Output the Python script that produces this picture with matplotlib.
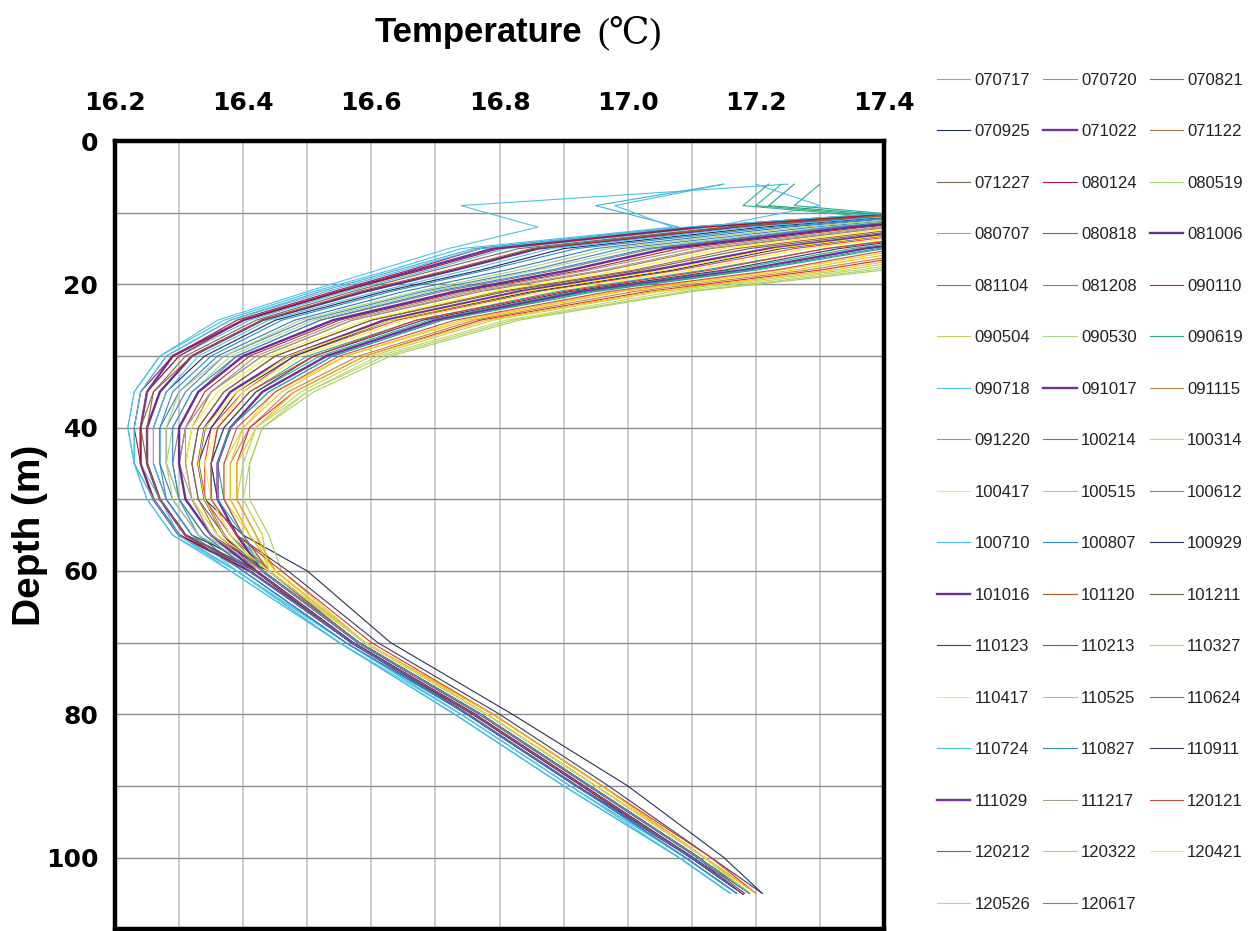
#importing libraries
import numpy as np
import matplotlib
matplotlib.use('Agg')
import matplotlib.pyplot as plt
from matplotlib.ticker import MultipleLocator

depth = [6, 9, 12, 15, 18, 21, 25, 30, 35, 40, 45, 50, 55, 60, 70, 80, 90, 100, 105]

#temperature profiles (deg C), one list per survey
t070717 = [17.25, 16.74, 16.86, 16.72, 16.61, 16.50, 16.36, 16.27, 16.23, 16.22, 16.23, 16.25, 16.29, 16.39, 16.55, 16.73, 16.90, 17.08, 17.16]
t070720 = [17.15, 16.95, 17.08, 16.76, 16.64, 16.52, 16.38, 16.28, 16.24, 16.23, 16.23, 16.26, 16.30, 16.39, 16.56, 16.74, 16.91, 17.09, 17.17]
t070821 = [17.89, 17.69, 17.29, 16.99, 16.85, 16.68, 16.50, 16.37, 16.31, 16.28, 16.28, 16.30, 16.33, 16.42, 16.57, 16.76, 16.93, 17.10, 17.18]
t070925 = [17.84, 17.64, 17.21, 16.90, 16.77, 16.62, 16.45, 16.34, 16.28, 16.26, 16.26, 16.28, 16.32, 16.44, 16.59, 16.78, 16.95, 17.12, 17.19]
t071022 = [17.79, 17.59, 17.11, 16.79, 16.67, 16.55, 16.40, 16.29, 16.25, 16.24, 16.24, 16.26, 16.30, 16.41, 16.57, 16.75, 16.92, 17.10, 17.18]
t071122 = [17.95, 17.75, 17.41, 17.13, 16.97, 16.77, 16.57, 16.43, 16.35, 16.32, 16.31, 16.32, 16.36, 16.43, 16.58, 16.77, 16.94, 17.11, 17.19]
t071227 = [17.80, 17.60, 17.15, 16.83, 16.70, 16.57, 16.42, 16.31, 16.26, 16.24, 16.25, 16.27, 16.31, 16.40, 16.56, 16.75, 16.92, 17.09, 17.17]
t080124 = [17.78, 17.58, 17.10, 16.77, 16.66, 16.54, 16.39, 16.29, 16.24, 16.23, 16.24, 16.26, 16.30, 16.42, 16.57, 16.76, 16.93, 17.10, 17.18]
t080519 = [18.19, 17.99, 17.83, 17.60, 17.38, 17.09, 16.82, 16.62, 16.50, 16.43, 16.41, 16.40, 16.43, 16.44, 16.58, 16.77, 16.94, 17.11, 17.19]
t080707 = [17.15, 16.98, 17.07, 16.74, 16.63, 16.51, 16.37, 16.27, 16.23, 16.22, 16.23, 16.25, 16.29, 16.38, 16.55, 16.73, 16.90, 17.08, 17.16]
t080818 = [17.86, 17.66, 17.25, 16.95, 16.81, 16.65, 16.48, 16.36, 16.30, 16.27, 16.27, 16.29, 16.33, 16.40, 16.56, 16.75, 16.92, 17.09, 17.17]
t081006 = [17.82, 17.62, 17.17, 16.86, 16.73, 16.59, 16.43, 16.32, 16.27, 16.25, 16.25, 16.27, 16.31, 16.42, 16.57, 16.76, 16.93, 17.10, 17.18]
t081104 = [17.98, 17.78, 17.45, 17.17, 17.01, 16.80, 16.60, 16.45, 16.37, 16.33, 16.32, 16.33, 16.36, 16.43, 16.58, 16.77, 16.94, 17.11, 17.18]
t081208 = [17.91, 17.71, 17.33, 17.04, 16.89, 16.71, 16.52, 16.39, 16.33, 16.30, 16.29, 16.30, 16.34, 16.43, 16.58, 16.77, 16.94, 17.11, 17.19]
t090110 = [17.93, 17.73, 17.37, 17.08, 16.93, 16.74, 16.55, 16.41, 16.34, 16.31, 16.30, 16.31, 16.35, 16.44, 16.58, 16.77, 16.94, 17.11, 17.19]
t090504 = [18.16, 17.96, 17.79, 17.55, 17.34, 17.05, 16.79, 16.60, 16.49, 16.42, 16.40, 16.39, 16.42, 16.44, 16.59, 16.78, 16.95, 17.12, 17.19]
t090530 = [17.89, 17.69, 17.31, 17.01, 16.86, 16.69, 16.51, 16.38, 16.32, 16.29, 16.28, 16.30, 16.34, 16.43, 16.58, 16.77, 16.94, 17.11, 17.19]
t090619 = [17.24, 17.20, 17.61, 17.35, 17.16, 16.92, 16.69, 16.52, 16.42, 16.37, 16.35, 16.36, 16.39, 16.44, 16.58, 16.77, 16.94, 17.11, 17.19]
t090718 = [17.20, 17.30, 17.13, 16.81, 16.69, 16.56, 16.41, 16.30, 16.25, 16.24, 16.24, 16.27, 16.30, 16.39, 16.55, 16.74, 16.91, 17.08, 17.16]
t091017 = [18.00, 17.80, 17.49, 17.22, 17.04, 16.83, 16.62, 16.47, 16.38, 16.34, 16.33, 16.34, 16.37, 16.42, 16.57, 16.76, 16.93, 17.10, 17.18]
t091115 = [18.13, 17.93, 17.73, 17.49, 17.28, 17.01, 16.76, 16.58, 16.47, 16.41, 16.38, 16.38, 16.41, 16.45, 16.59, 16.78, 16.95, 17.12, 17.19]
t091220 = [17.94, 17.74, 17.39, 17.10, 16.94, 16.75, 16.56, 16.42, 16.35, 16.31, 16.30, 16.32, 16.35, 16.43, 16.58, 16.77, 16.94, 17.11, 17.18]
t100214 = [18.02, 17.82, 17.53, 17.26, 17.08, 16.86, 16.64, 16.48, 16.40, 16.35, 16.34, 16.34, 16.38, 16.44, 16.59, 16.78, 16.95, 17.12, 17.19]
t100314 = [18.11, 17.91, 17.69, 17.44, 17.24, 16.98, 16.74, 16.56, 16.45, 16.40, 16.37, 16.37, 16.41, 16.45, 16.59, 16.78, 16.95, 17.12, 17.19]
t100417 = [17.97, 17.77, 17.43, 17.15, 16.99, 16.79, 16.59, 16.44, 16.36, 16.32, 16.31, 16.32, 16.36, 16.44, 16.58, 16.77, 16.94, 17.11, 17.19]
t100515 = [17.88, 17.68, 17.27, 16.97, 16.83, 16.67, 16.49, 16.37, 16.30, 16.28, 16.28, 16.29, 16.33, 16.43, 16.58, 16.77, 16.94, 17.11, 17.19]
t100612 = [17.22, 17.18, 17.57, 17.31, 17.12, 16.89, 16.67, 16.50, 16.41, 16.36, 16.35, 16.35, 16.38, 16.43, 16.58, 16.77, 16.94, 17.11, 17.19]
t100710 = [17.83, 17.63, 17.19, 16.88, 16.75, 16.61, 16.44, 16.33, 16.28, 16.26, 16.26, 16.28, 16.32, 16.39, 16.56, 16.74, 16.91, 17.09, 17.17]
t100807 = [17.85, 17.65, 17.23, 16.92, 16.78, 16.63, 16.46, 16.35, 16.29, 16.27, 16.27, 16.28, 16.32, 16.40, 16.56, 16.75, 16.92, 17.09, 17.17]
t100929 = [18.01, 17.81, 17.51, 17.24, 17.07, 16.85, 16.63, 16.48, 16.39, 16.35, 16.33, 16.34, 16.40, 16.50, 16.63, 16.82, 17.00, 17.15, 17.21]
t101016 = [17.92, 17.72, 17.35, 17.06, 16.91, 16.73, 16.54, 16.40, 16.33, 16.30, 16.30, 16.31, 16.35, 16.42, 16.57, 16.76, 16.93, 17.10, 17.18]
t101120 = [17.81, 17.61, 17.16, 16.85, 16.72, 16.58, 16.43, 16.32, 16.26, 16.25, 16.25, 16.27, 16.31, 16.42, 16.57, 16.76, 16.93, 17.10, 17.18]
t101211 = [17.98, 17.78, 17.47, 17.19, 17.02, 16.81, 16.60, 16.45, 16.37, 16.33, 16.32, 16.33, 16.37, 16.43, 16.58, 16.77, 16.94, 17.11, 17.19]
t110123 = [17.79, 17.59, 17.12, 16.80, 16.68, 16.55, 16.40, 16.30, 16.25, 16.24, 16.24, 16.26, 16.30, 16.41, 16.57, 16.75, 16.92, 17.10, 17.18]
t110213 = [18.15, 17.95, 17.75, 17.51, 17.30, 17.03, 16.77, 16.59, 16.48, 16.41, 16.39, 16.39, 16.42, 16.45, 16.59, 16.79, 16.96, 17.12, 17.20]
t110327 = [18.16, 17.96, 17.77, 17.53, 17.32, 17.04, 16.78, 16.59, 16.48, 16.42, 16.39, 16.39, 16.42, 16.45, 16.59, 16.79, 16.96, 17.12, 17.20]
t110417 = [18.03, 17.83, 17.55, 17.28, 17.10, 16.87, 16.65, 16.49, 16.40, 16.36, 16.34, 16.35, 16.38, 16.45, 16.59, 16.78, 16.95, 17.12, 17.19]
t110525 = [18.20, 18.00, 17.85, 17.62, 17.40, 17.10, 16.83, 16.63, 16.51, 16.43, 16.41, 16.41, 16.44, 16.46, 16.59, 16.78, 16.95, 17.12, 17.19]
t110624 = [17.26, 17.22, 17.65, 17.40, 17.20, 16.95, 16.71, 16.54, 16.44, 16.38, 16.36, 16.37, 16.40, 16.44, 16.58, 16.77, 16.94, 17.11, 17.19]
t110724 = [17.77, 17.57, 17.09, 16.77, 16.65, 16.53, 16.38, 16.28, 16.24, 16.23, 16.23, 16.26, 16.30, 16.38, 16.55, 16.73, 16.90, 17.08, 17.16]
t110827 = [17.90, 17.70, 17.32, 17.03, 16.88, 16.70, 16.52, 16.39, 16.32, 16.29, 16.29, 16.30, 16.34, 16.41, 16.57, 16.75, 16.92, 17.10, 17.18]
t110911 = [18.06, 17.86, 17.59, 17.33, 17.15, 16.91, 16.68, 16.51, 16.42, 16.37, 16.35, 16.36, 16.39, 16.47, 16.61, 16.80, 16.97, 17.13, 17.21]
t111029 = [18.07, 17.87, 17.63, 17.37, 17.18, 16.93, 16.70, 16.53, 16.43, 16.38, 16.36, 16.36, 16.39, 16.43, 16.58, 16.77, 16.94, 17.11, 17.18]
t111217 = [17.95, 17.75, 17.40, 17.12, 16.96, 16.76, 16.57, 16.43, 16.35, 16.31, 16.31, 16.32, 16.35, 16.43, 16.58, 16.77, 16.94, 17.11, 17.18]
t120121 = [18.10, 17.90, 17.67, 17.42, 17.23, 16.97, 16.73, 16.55, 16.45, 16.39, 16.37, 16.37, 16.40, 16.44, 16.58, 16.77, 16.94, 17.11, 17.19]
t120212 = [18.05, 17.85, 17.58, 17.31, 17.13, 16.90, 16.67, 16.51, 16.41, 16.36, 16.35, 16.35, 16.39, 16.46, 16.60, 16.79, 16.96, 17.13, 17.20]
t120322 = [18.12, 17.92, 17.71, 17.46, 17.26, 16.99, 16.75, 16.56, 16.46, 16.40, 16.38, 16.38, 16.41, 16.45, 16.59, 16.79, 16.96, 17.12, 17.20]
t120421 = [18.01, 17.81, 17.51, 17.23, 17.06, 16.84, 16.63, 16.47, 16.39, 16.34, 16.33, 16.34, 16.37, 16.44, 16.59, 16.78, 16.95, 17.12, 17.19]
t120526 = [18.18, 17.98, 17.81, 17.58, 17.36, 17.07, 16.81, 16.61, 16.50, 16.42, 16.40, 16.40, 16.43, 16.44, 16.59, 16.78, 16.95, 17.12, 17.19]
t120617 = [17.30, 17.26, 17.64, 17.39, 17.19, 16.94, 16.71, 16.54, 16.44, 16.38, 16.36, 16.36, 16.40, 16.43, 16.58, 16.77, 16.94, 17.11, 17.19]

dates = ['070717', '070720', '070821', '070925', '071022', '071122', '071227', '080124', '080519',
         '080707', '080818', '081006', '081104', '081208', '090110', '090504', '090530', '090619',
         '090718', '091017', '091115', '091220', '100214', '100314', '100417', '100515', '100612',
         '100710', '100807', '100929', '101016', '101120', '101211', '110123', '110213', '110327',
         '110417', '110525', '110624', '110724', '110827', '110911', '111029', '111217', '120121',
         '120212', '120322', '120421', '120526', '120617']

profiles = [t070717, t070720, t070821, t070925, t071022, t071122, t071227, t080124, t080519,
            t080707, t080818, t081006, t081104, t081208, t090110, t090504, t090530, t090619,
            t090718, t091017, t091115, t091220, t100214, t100314, t100417, t100515, t100612,
            t100710, t100807, t100929, t101016, t101120, t101211, t110123, t110213, t110327,
            t110417, t110525, t110624, t110724, t110827, t110911, t111029, t111217, t120121,
            t120212, t120322, t120421, t120526, t120617]

colors = ['#4BC3E6', '#3CB4DC', '#4A7EBB', '#1F2D5A', '#7030A0', '#B07840', '#7A6A55', '#B0183C', '#A8D46F',
          '#46C0E8', '#2F7DB8', '#6A2C91', '#A86A30', '#8C7F6A', '#C0282D', '#B8D55A', '#A6D58A', '#2EAF85',
          '#4CC4EA', '#7030A0', '#C08548', '#9C9885', '#E04848', '#F2D21A', '#F8F030', '#ADD07A', '#2DB08C',
          '#4AC4E8', '#2E8ACB', '#263160', '#6B2D95', '#A65A22', '#6E6352', '#9E1B32', '#E02828', '#F0C419',
          '#FAF03C', '#A9CF5C', '#23A47A', '#45BFE6', '#2D86CC', '#3B3B6B', '#7030A0', '#A39D8B', '#C8504B',
          '#E23232', '#F2C413', '#FFF21A', '#C6D75E', '#2FA8A0']

thick = ['071022', '081006', '091017', '101016', '111029']

xticks = [16.2, 16.4, 16.6, 16.8, 17.0, 17.2, 17.4]
xlabels = ['16.2', '16.4', '16.6', '16.8', '17.0', '17.2', '17.4']
yticks = [0, 20, 40, 60, 80, 100]

#figure
fig = plt.figure(figsize=(12.5, 9.31), dpi=100)
ax = fig.add_axes([0.092, 0.002, 0.6152, 0.8464])

lines = []
for d, t, c in zip(dates, profiles, colors):
    lw = 1.7 if d in thick else 0.8
    ln, = ax.plot(t, depth, color=c, lw=lw, label=d)
    lines.append(ln)

ax.set_xlim(16.2, 17.4)
ax.set_ylim(110, 0)

#axes and grid
ax.xaxis.tick_top()
ax.set_xticks(xticks)
ax.set_xticklabels(xlabels, fontweight='bold', fontsize=18)
ax.set_yticks(yticks)
ax.set_yticklabels([str(v) for v in yticks], fontweight='bold', fontsize=18)
ax.xaxis.set_minor_locator(MultipleLocator(0.1))
ax.yaxis.set_minor_locator(MultipleLocator(10))
ax.set_axisbelow(True)
ax.grid(which='both', axis='x', color='#c4c4c4', lw=1.2)
ax.grid(which='both', axis='y', color='#8c8c8c', lw=1.0)
ax.tick_params(which='both', length=0)
ax.tick_params(axis='x', pad=19)
ax.tick_params(axis='y', pad=12)
for s in ax.spines.values():
    s.set_linewidth(3.2)
    s.set_color('black')

#titles
sans = ['Liberation Sans', 'DejaVu Sans']
fig.text(0.300, 0.9549, 'Temperature', fontsize=25, fontweight='bold', family=sans,
         ha='left', va='baseline')
fig.text(0.478, 0.9549, '(\u2103)', fontsize=26, family=['Liberation Serif', 'DejaVu Serif', 'DejaVu Sans'],
         ha='left', va='baseline')
fig.text(0.024, 0.425, 'Depth (m)', fontsize=28, fontweight='bold', family=sans,
         rotation=90, ha='center', va='center')

#legend, filled row by row like the original
order = [i for j in range(3) for i in range(j, len(dates), 3)]
fig.legend([lines[i] for i in order], [dates[i] for i in order], ncol=3,
           loc='upper left', bbox_to_anchor=(0.7496, 0.9221), frameon=False,
           prop={'family': sans, 'size': 12}, labelcolor='#222222',
           handlelength=2.0, handletextpad=0.25, columnspacing=0.78,
           labelspacing=2.19, borderpad=0, borderaxespad=0)

fig.savefig('out.png', dpi=100)
